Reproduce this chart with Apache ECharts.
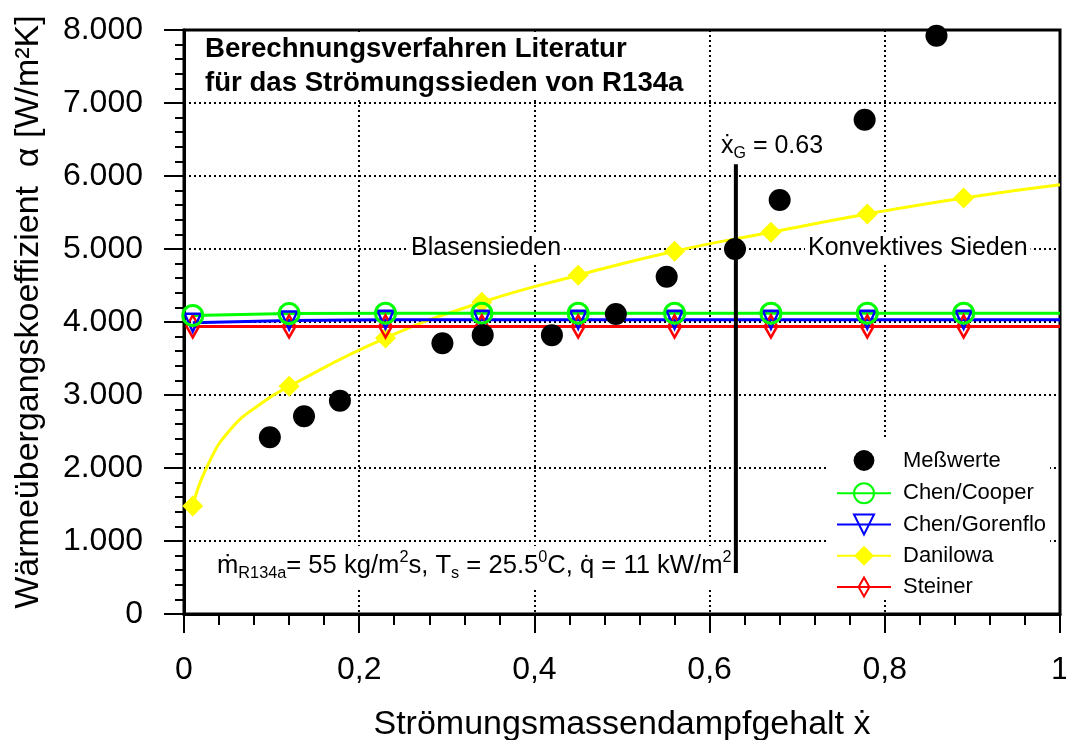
<!DOCTYPE html>
<html><head><meta charset="utf-8">
<script src="https://cdn.jsdelivr.net/npm/echarts@6/dist/echarts.min.js"></script>
<style>html,body{margin:0;padding:0;background:#fff}#c{width:1066px;height:740px}</style>
</head><body><div id="c"></div>
<script>
// ---- data ----
const xTickLabels = ['0', '0,2', '0,4', '0,6', '0,8', '1'];
const yTickLabels = ['0', '1.000', '2.000', '3.000', '4.000', '5.000', '6.000', '7.000', '8.000'];

const messX = [0.098, 0.137, 0.178, 0.295, 0.341, 0.420, 0.493, 0.551, 0.629, 0.680, 0.777, 0.859];
const messY = [2420, 2710, 2920, 3710, 3820, 3820, 4110, 4620, 5000, 5670, 6770, 7920];

const modelX = [0.01, 0.12, 0.23, 0.34, 0.45, 0.56, 0.67, 0.78, 0.89];
const cooperY = [4090, 4115, 4120, 4120, 4120, 4120, 4120, 4120, 4120];
const gorenfloY = [3990, 4020, 4030, 4030, 4030, 4030, 4030, 4030, 4030];
const steinerY = [3940, 3940, 3940, 3940, 3940, 3940, 3940, 3940, 3940];
const danilowaY = [1480, 3120, 3780, 4270, 4640, 4970, 5230, 5480, 5700];

// extra points of the Danilowa curve (no marker)
const danilowaCurveX = [0.026, 0.0525, 0.090];
const danilowaCurveY = [2010, 2520, 2900];

// line ends at the right border
const lineEndX = 1.0;
const cooperEnd = 4120, gorenfloEnd = 4030, steinerEnd = 3940, danilowaEnd = 5880;

// vertical marker x_G
const xG = 0.63;
const xGLineY = [560, 6160];

// ---- build ----
const FF = 'Arial, "Liberation Sans", sans-serif';
function pts(xs, ys) { return xs.map((x, i) => [x, ys[i]]); }
function withEnd(xs, ys, endY) {
  const d = pts(xs, ys);
  d.push({ value: [lineEndX, endY], symbol: 'none' });
  return d;
}
const danData = pts(modelX, danilowaY).map(p => ({ value: p }))
  .concat(danilowaCurveX.map((x, i) => ({ value: [x, danilowaCurveY[i]], symbol: 'none' })))
  .concat([{ value: [lineEndX, danilowaEnd], symbol: 'none' }])
  .sort((a, b) => a.value[0] - b.value[0]);

const triDown = 'path://M-8,-8 L8,-8 L0,9 Z';
const thinDiamond = 'path://M-12,-12 M12,12 M0,-11.5 L6.5,0 L0,11.5 L-6.5,0 Z';
const legendDot = 'path://M-12,-12 M12,12 M10,0 A10,10 0 1 1 -10,0 A10,10 0 1 1 10,0 Z';

const chart = echarts.init(document.getElementById('c'), null, { renderer: 'canvas' });
chart.setOption({
  animation: false,
  backgroundColor: '#fff',
  grid: { left: 184, right: 6, top: 30, bottom: 126, show: true, borderColor: '#000', borderWidth: 3,
    containLabel: false, outerBoundsMode: 'none' },
  xAxis: {
    type: 'value', min: 0, max: 1, interval: 0.2,
    name: 'Strömungsmassendampfgehalt ẋ', nameLocation: 'middle', nameGap: 94,
    nameTextStyle: { fontFamily: FF, fontSize: 34, color: '#000' },
    axisLine: { lineStyle: { color: '#000', width: 3 } },
    axisTick: { show: true, inside: false, length: 19, lineStyle: { color: '#000', width: 2 } },
    minorTick: { show: true, splitNumber: 5, length: 11, lineStyle: { color: '#000', width: 2 } },
    axisLabel: {
      margin: 40, fontFamily: FF, fontSize: 32, color: '#000', showMinLabel: true, showMaxLabel: true,
      formatter: v => xTickLabels[Math.round(v / 0.2)]
    },
    splitLine: { show: true, lineStyle: { color: '#000', width: 2, type: [2, 3] } },
    minorSplitLine: { show: false }
  },
  yAxis: {
    type: 'value', min: 0, max: 8000, interval: 1000,
    name: 'Wärmeübergangskoeffizient  α [W/m²K]', nameLocation: 'middle', nameGap: 138,
    nameTextStyle: { fontFamily: FF, fontSize: 34, color: '#000', padding: [0, 0, 0, 20] },
    axisLine: { show: true, lineStyle: { color: '#000', width: 3 } },
    axisTick: { show: true, inside: false, length: 20, lineStyle: { color: '#000', width: 2 } },
    minorTick: { show: true, splitNumber: 5, length: 9, lineStyle: { color: '#000', width: 2 } },
    axisLabel: {
      margin: 41, fontFamily: FF, fontSize: 32, color: '#000', showMinLabel: true, showMaxLabel: true,
      formatter: v => yTickLabels[Math.round(v / 1000)]
    },
    splitLine: { show: true, lineStyle: { color: '#000', width: 2, type: [2, 3] } }
  },
  legend: {
    orient: 'vertical', left: 826, top: 440,
    itemWidth: 54, itemHeight: 25, itemGap: 9.25,
    padding: [8, 4, 0, 10],
    backgroundColor: '#fff',
    textStyle: { fontFamily: FF, fontSize: 22, color: '#000', padding: [0, 0, 0, 7] },
    data: [
      { name: 'Meßwerte', icon: legendDot },
      'Chen/Cooper', 'Chen/Gorenflo', 'Danilowa', 'Steiner'
    ]
  },
  series: [
    {
      name: 'Danilowa', type: 'line', smooth: 0.5, data: danData,
      symbol: 'diamond', symbolSize: 21,
      lineStyle: { color: '#ffff00', width: 3 },
      itemStyle: { color: '#ffff00', borderColor: '#ffff00', borderWidth: 0 }
    },
    {
      name: 'Steiner', type: 'line', data: withEnd(modelX, steinerY, steinerEnd),
      symbol: thinDiamond, symbolSize: 23,
      lineStyle: { color: '#ff0000', width: 3 },
      itemStyle: { color: 'rgba(255,255,255,0)', borderColor: '#ff0000', borderWidth: 2.5 }
    },
    {
      name: 'Chen/Gorenflo', type: 'line', data: withEnd(modelX, gorenfloY, gorenfloEnd),
      symbol: triDown, symbolSize: [16, 18],
      lineStyle: { color: '#0000ff', width: 3 },
      itemStyle: { color: 'rgba(255,255,255,0)', borderColor: '#0000ff', borderWidth: 2.5 }
    },
    {
      name: 'Chen/Cooper', type: 'line', data: withEnd(modelX, cooperY, cooperEnd),
      symbol: 'circle', symbolSize: 20,
      lineStyle: { color: '#00ff00', width: 3 },
      itemStyle: { color: 'rgba(255,255,255,0)', borderColor: '#00ff00', borderWidth: 3 }
    },
    {
      name: 'Meßwerte', type: 'scatter', data: pts(messX, messY),
      symbol: 'circle', symbolSize: 22, z: 4,
      itemStyle: { color: '#000', opacity: 1 }
    },
    {
      name: 'xG', type: 'line', data: xGLineY.map(y => [xG, y]),
      symbol: 'none', z: 5, silent: true,
      lineStyle: { color: '#000', width: 4 }
    }
  ],
  graphic: [
    { type: 'rect', z: 1, silent: true, shape: { x: 186, y: 33, width: 508, height: 67 }, style: { fill: '#fff' } },
    {
      type: 'text', z: 1, x: 205, y: 32,
      style: { text: 'Berechnungsverfahren Literatur\nfür das Strömungssieden von R134a',
        fontFamily: FF, fontSize: 27.6, fontWeight: 'bold', lineHeight: 34, fill: '#000' }
    },
    { type: 'rect', z: 1, silent: true, shape: { x: 187, y: 546, width: 550, height: 42 }, style: { fill: '#fff' } },
    {
      type: 'text', z: 1, x: 217, y: 550,
      style: {
        text: '{t|ṁ}{s|R134a}{t|= 55 kg/m}{p|2}{t|s, T}{s|s}{t| = 25.5}{p|0}{t|C, q\u0307 = 11 kW/m}{p|2}',
        fontFamily: FF, fontSize: 25.6, fill: '#000',
        rich: {
          t: { fontFamily: FF, fontSize: 25.6, lineHeight: 32, fill: '#000' },
          s: { fontFamily: FF, fontSize: 16.3, lineHeight: 16, verticalAlign: 'bottom', fill: '#000' },
          p: { fontFamily: FF, fontSize: 16.3, lineHeight: 16, verticalAlign: 'top', fill: '#000' }
        }
      }
    },
    {
      type: 'text', z: 1, x: 721, y: 130,
      style: {
        text: '{t|ẋ}{s|G}{t| = 0.63}',
        fontFamily: FF, fontSize: 25, fill: '#000',
        rich: {
          t: { fontFamily: FF, fontSize: 25, lineHeight: 32, fill: '#000' },
          s: { fontFamily: FF, fontSize: 16, lineHeight: 16, verticalAlign: 'bottom', fill: '#000' }
        }
      }
    },
    {
      type: 'text', z: 1, x: 408, y: 248,
      style: { text: 'Blasensieden', fontFamily: FF, fontSize: 25, fill: '#000',
        verticalAlign: 'middle', backgroundColor: '#fff', padding: [2, 3] }
    },
    {
      type: 'text', z: 1, x: 805, y: 248,
      style: { text: 'Konvektives Sieden', fontFamily: FF, fontSize: 25, fill: '#000',
        verticalAlign: 'middle', backgroundColor: '#fff', padding: [2, 3] }
    }
  ]
});
</script>
</body></html>
